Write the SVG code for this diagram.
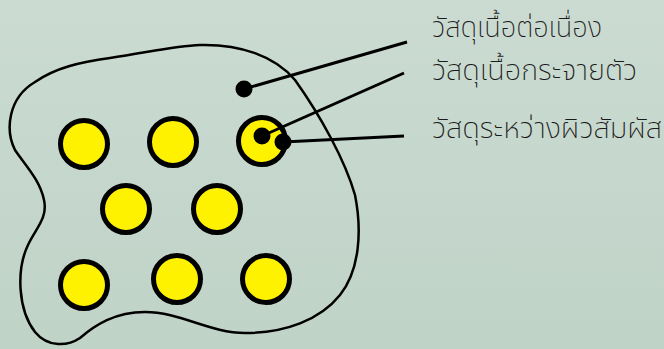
<svg xmlns="http://www.w3.org/2000/svg" width="664" height="349" viewBox="0 0 664 349">
  <defs>
    <linearGradient id="bg" x1="0" y1="0" x2="0" y2="1">
      <stop offset="0" stop-color="#cbdbd2"/>
      <stop offset="1" stop-color="#c0d3c7"/>
    </linearGradient>
    <style>
      .grain { fill: #fff200; stroke: #000; stroke-width: 5; }
      .dot { fill: #000; }
      .lead { stroke: #000; stroke-width: 3; fill: none; }
      .lbl { font-family: "Noto Sans Thai", "Noto Sans", "DejaVu Sans", sans-serif; font-size: 28px; fill: #1a1a1a; font-weight: 200; }
    </style>
  </defs>
  <rect width="664" height="349" fill="url(#bg)"/>
  <g id="matrix">
    <path d="M 200,45 C 240,44 275,56 295,80 C 320,115 345,160 355,195 C 362,230 360,270 340,295 C 320,320 285,333 245,333 C 210,333 180,312 145,312 C 115,312 95,325 80,338 C 68,346 48,348 35,332 C 18,310 16,270 28,245 C 36,228 48,218 44,200 C 40,180 25,165 15,150 C 5,130 8,98 35,82 C 55,68 80,62 110,58 C 150,52 175,46 200,45 Z" fill="none" stroke="#000" stroke-width="2.5"/>
  </g>
  <g id="grains">
    <circle class="grain" cx="84" cy="144" r="23.5"/>
    <circle class="grain" cx="173" cy="142" r="23.5"/>
    <circle class="grain" cx="262" cy="141" r="23.5"/>
    <circle class="grain" cx="126" cy="209" r="23.5"/>
    <circle class="grain" cx="217" cy="209" r="23.5"/>
    <circle class="grain" cx="84" cy="285" r="23.5"/>
    <circle class="grain" cx="177" cy="279" r="23.5"/>
    <circle class="grain" cx="266" cy="279" r="23.5"/>
  </g>
  <g id="connectors">
    <line class="lead" x1="244" y1="89" x2="407" y2="42"/>
    <line class="lead" x1="262" y1="136" x2="404" y2="73"/>
    <line class="lead" x1="283" y1="142" x2="404" y2="136"/>
  </g>
  <g id="point-continuous">
    <circle class="dot" cx="244" cy="89" r="8.5"/>
  </g>
  <g id="point-dispersed">
    <circle class="dot" cx="262" cy="136" r="8.5"/>
  </g>
  <g id="point-interface">
    <circle class="dot" cx="283" cy="142" r="8.5"/>
  </g>
  <g id="labels">
    <text class="lbl" x="432" y="37" textLength="170" lengthAdjust="spacingAndGlyphs">วัสดุเนื้อต่อเนื่อง</text>
    <text class="lbl" x="432" y="80" textLength="205" lengthAdjust="spacingAndGlyphs">วัสดุเนื้อกระจายตัว</text>
    <text class="lbl" x="432" y="138" textLength="230" lengthAdjust="spacingAndGlyphs">วัสดุระหว่างผิวสัมผัส</text>
  </g>
</svg>
